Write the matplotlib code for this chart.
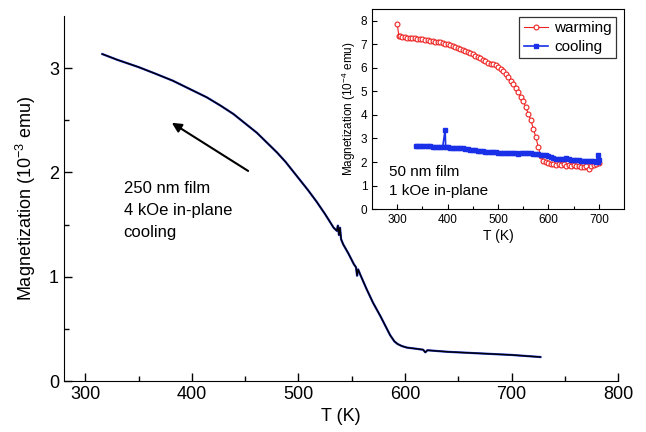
import matplotlib
matplotlib.use("Agg")
import matplotlib.pyplot as plt

plt.rcParams["font.family"] = ["Liberation Sans", "DejaVu Sans"]
plt.rcParams["mathtext.default"] = "regular"

# main panel: 250 nm film, cooling in 4 kOe
main_T = [316, 330, 350, 365, 382, 398, 414, 427, 439, 450, 461, 470, 480, 488,
          495, 502, 509, 517, 525, 533, 536, 537, 538, 539, 540, 542, 547, 552,
          554, 555, 556, 558, 564, 570, 577, 582, 586, 590, 593, 597, 602, 610,
          617, 619, 621, 640, 660, 680, 700, 727]
main_M = [3.135, 3.08, 3.01, 2.95, 2.88, 2.80, 2.72, 2.64, 2.56, 2.47, 2.38,
          2.29, 2.19, 2.10, 2.01, 1.92, 1.83, 1.72, 1.60, 1.47, 1.44, 1.49, 1.40,
          1.47, 1.36, 1.31, 1.22, 1.12, 1.09, 1.01, 1.07, 1.02, 0.88, 0.75, 0.62,
          0.52, 0.44, 0.38, 0.355, 0.335, 0.32, 0.31, 0.30, 0.275, 0.295, 0.28,
          0.27, 0.26, 0.25, 0.23]

# inset: 50 nm film, 1 kOe
warm_T = [300, 303, 305, 310, 315, 320, 325, 330, 335, 340, 345, 350, 355, 360,
          365, 370, 375, 380, 385, 390, 395, 400, 405, 410, 415, 420, 425, 430,
          435, 440, 445, 450, 455, 460, 465, 470, 475, 480, 485, 490, 495, 500,
          505, 510, 515, 520, 525, 530, 535, 540, 545, 550, 555, 560, 565, 570,
          575, 580, 585, 590, 595, 600, 605, 610, 615, 620, 625, 630, 635, 640,
          645, 650, 655, 660, 665, 670, 675, 680, 685, 690, 695, 700]
warm_M = [7.87, 7.36, 7.34, 7.32, 7.30, 7.29, 7.27, 7.26, 7.25, 7.24, 7.23, 7.21,
          7.19, 7.17, 7.15, 7.13, 7.12, 7.10, 7.08, 7.06, 7.03, 7.00, 6.96, 6.92,
          6.88, 6.84, 6.80, 6.76, 6.72, 6.67, 6.62, 6.57, 6.52, 6.47, 6.41, 6.35,
          6.30, 6.22, 6.17, 6.18, 6.12, 6.05, 5.95, 5.85, 5.72, 5.60, 5.46, 5.33,
          5.15, 4.98, 4.75, 4.58, 4.32, 4.05, 3.78, 3.42, 3.05, 2.62, 2.25, 2.03,
          1.98, 1.95, 1.92, 1.90, 1.88, 1.90, 1.88, 1.92, 1.85, 1.87, 1.84, 1.86,
          1.82, 1.84, 1.80, 1.78, 1.82, 1.70, 1.85, 1.88, 1.92, 1.96]

cool_T = [337, 340, 345, 350, 355, 360, 365, 370, 375, 380, 385, 390, 395, 396,
          400, 405, 410, 415, 420, 425, 430, 435, 440, 445, 450, 455, 460, 465,
          470, 475, 480, 485, 490, 495, 500, 505, 510, 515, 520, 525, 530, 535,
          540, 545, 550, 555, 560, 565, 570, 575, 580, 585, 590, 595, 600, 605,
          610, 615, 620, 625, 630, 635, 640, 645, 650, 655, 660, 665, 670, 675,
          680, 685, 690, 695, 698, 699, 700]
cool_M = [2.70, 2.69, 2.68, 2.68, 2.67, 2.66, 2.66, 2.65, 2.64, 2.64, 2.63, 2.63,
          3.37, 2.62, 2.62, 2.61, 2.60, 2.60, 2.59, 2.58, 2.58, 2.56, 2.55, 2.53,
          2.52, 2.50, 2.48, 2.46, 2.45, 2.44, 2.43, 2.43, 2.42, 2.41, 2.40, 2.39,
          2.39, 2.38, 2.38, 2.37, 2.37, 2.37, 2.36, 2.37, 2.37, 2.38, 2.39, 2.37,
          2.35, 2.34, 2.33, 2.31, 2.30, 2.28, 2.26, 2.20, 2.16, 2.14, 2.13, 2.12,
          2.13, 2.15, 2.12, 2.10, 2.09, 2.08, 2.07, 2.06, 2.06, 2.05, 2.04, 2.03,
          2.03, 2.02, 2.28, 2.00, 2.08]

fig = plt.figure(figsize=(6.46, 4.32), dpi=100)

ax = fig.add_axes([0.099, 0.118, 0.858, 0.845])
ax.plot(main_T, main_M, color="#2035d0", lw=1.6)
ax.plot(main_T, main_M, color="black", lw=1.0)
ax.set_xlim(280, 800)
ax.set_ylim(0, 3.5)
ax.set_xticks([300, 400, 500, 600, 700, 800])
ax.set_xticks([350, 450, 550, 650, 750], minor=True)
ax.set_yticks([0, 1, 2, 3])
ax.set_yticks([0.5, 1.5, 2.5], minor=True)
ax.spines["top"].set_visible(False)
ax.spines["right"].set_visible(False)
ax.tick_params(direction="in", labelsize=13, length=6, width=1)
ax.tick_params(which="minor", direction="in", length=3.5, width=1)
ax.set_xlabel("T (K)", fontsize=13)
ax.set_ylabel("Magnetization (10$^{-3}$ emu)", fontsize=13, labelpad=8)

ax.annotate("", xy=(379, 2.49), xytext=(455, 2.0),
            arrowprops=dict(arrowstyle="-|>", color="black", lw=1.5,
                            mutation_scale=14))
ax.text(336, 1.92, "250 nm film\n4 kOe in-plane\ncooling", fontsize=12,
        va="top", ha="left", linespacing=1.6)

ins = fig.add_axes([0.576, 0.516, 0.390, 0.463])
ins.plot(warm_T, warm_M, color="#ee2222", lw=0.8, marker="o", ms=3.5,
         mfc="white", mec="#ee2222", mew=0.8, label="warming")
ins.plot(cool_T, cool_M, color="#1a2fe8", lw=1.2, marker="s", ms=3.5,
         mfc="#1a2fe8", mec="#1a2fe8", label="cooling")
ins.set_xlim(250, 750)
ins.set_ylim(0, 8.5)
ins.set_xticks([300, 400, 500, 600, 700])
ins.set_xticks([350, 450, 550, 650], minor=True)
ins.set_yticks(range(0, 9))
ins.tick_params(direction="in", labelsize=8.5, length=3.5, width=0.8)
ins.tick_params(which="minor", direction="in", length=2, width=0.8)
ins.set_xlabel("T (K)", fontsize=10, labelpad=2)
ins.set_ylabel("Magnetization (10$^{-4}$ emu)", fontsize=8.5, labelpad=2)
ins.text(284, 1.18, "50 nm film\n1 kOe in-plane", fontsize=11, va="center",
         linespacing=1.5)
leg = ins.legend(loc="upper right", fontsize=11, frameon=True, fancybox=False,
                 edgecolor="black", handlelength=1.6, borderpad=0.3,
                 labelspacing=0.3, handletextpad=0.4)
leg.get_frame().set_linewidth(0.9)

fig.savefig("out.png", dpi=100)
